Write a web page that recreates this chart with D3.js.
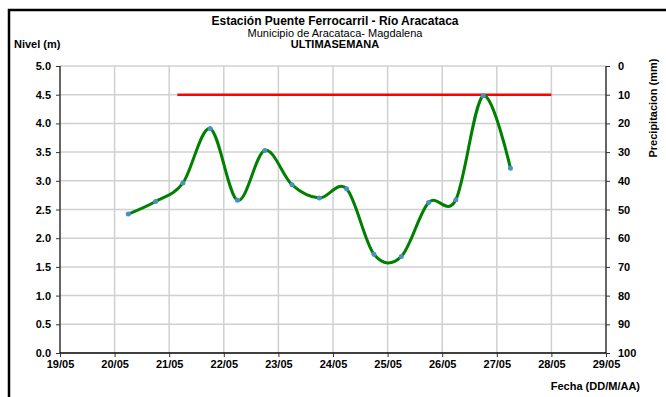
<!DOCTYPE html>
<html><head><meta charset="utf-8">
<script src="https://cdn.jsdelivr.net/npm/d3@7"></script>
<style>body{margin:0;background:#fff}svg{display:block;font-family:"Liberation Sans",Arial,sans-serif}</style>
</head><body><svg id="c" width="666" height="397"></svg>
<script>
// Data: day-of-May (fractional) and level in metres
const days = [20.25,20.75,21.25,21.75,22.25,22.75,23.25,23.75,24.25,24.75,25.25,25.75,26.25,26.75,27.25];
const nivel = [2.42,2.64,2.96,3.91,2.66,3.53,2.93,2.70,2.86,1.72,1.68,2.62,2.67,4.48,3.22];
const umbralDays = [21.15,28];
const umbralValue = [4.5,4.5];
const xTickDays = [19,20,21,22,23,24,25,26,27,28,29];
const xTickLabels = ["19/05","20/05","21/05","22/05","23/05","24/05","25/05","26/05","27/05","28/05","29/05"];
const yTicks = [0,0.5,1,1.5,2,2.5,3,3.5,4,4.5,5];
const precTicks = [0,10,20,30,40,50,60,70,80,90,100];

const svg = d3.select("#c");
const L=60,R=606,T=66,B=353;
const x = d3.scaleLinear().domain([19,29]).range([L,R]);
const y = d3.scaleLinear().domain([0,5]).range([B,T]);
const y2 = d3.scaleLinear().domain([0,100]).range([T,B]);

// frame
svg.append("rect").attr("x",9).attr("y",10).attr("width",700).attr("height",420)
  .attr("fill","none").attr("stroke","#000").attr("stroke-width",2.5);

// gridlines
const g = svg.append("g");
g.selectAll(".hg").data(yTicks.filter(d=>d>0)).enter().append("line")
  .attr("x1",L).attr("x2",R).attr("y1",d=>y(d)).attr("y2",d=>y(d))
  .attr("stroke","#d0d0d0").attr("stroke-width",1.5);
g.selectAll(".vg").data(xTickDays.slice(1,-1)).enter().append("line")
  .attr("y1",T).attr("y2",B).attr("x1",d=>x(d)).attr("x2",d=>x(d))
  .attr("stroke","#d0d0d0").attr("stroke-width",1.5);

// axes
const fmt = d3.format(".1f");
const ax = svg.append("g").attr("transform",`translate(${L},0)`)
  .call(d3.axisLeft(y).tickValues(yTicks).tickFormat(fmt).tickSize(4).tickPadding(5));
const ax2 = svg.append("g").attr("transform",`translate(${R},0)`)
  .call(d3.axisRight(y2).tickValues(precTicks).tickSize(4).tickPadding(8));
const bx = svg.append("g").attr("transform",`translate(0,${B})`)
  .call(d3.axisBottom(x).tickValues(xTickDays).tickFormat((d,i)=>xTickLabels[i]).tickSize(4).tickPadding(3));
[ax,ax2,bx].forEach(a=>{
  a.select(".domain").attr("stroke","#333").attr("stroke-width",1.5);
  a.selectAll(".tick line").attr("stroke","#333").attr("stroke-width",1);
  a.selectAll("text").attr("font-size",11).attr("font-weight","bold").attr("fill","#000")
   .attr("font-family","'Liberation Sans',Arial,sans-serif");
});
ax.select(".domain").attr("d",`M0,${T}V${B}`);
ax2.select(".domain").attr("d",`M0,${T}V${B}`);
bx.select(".domain").attr("stroke","#000").attr("d",`M${L},0H${R}`);

// threshold line
svg.append("line").attr("x1",x(umbralDays[0])).attr("x2",x(umbralDays[1]))
  .attr("y1",y(umbralValue[0])).attr("y2",y(umbralValue[1]))
  .attr("stroke","#ff0000").attr("stroke-width",2.5);

// level line
const pts = days.map((d,i)=>[d,nivel[i]]);
svg.append("path").datum(pts)
  .attr("d",d3.line().x(d=>x(d[0])).y(d=>y(d[1])).curve(d3.curveCardinal.tension(0)))
  .attr("fill","none").attr("stroke","#008000").attr("stroke-width",3);
svg.selectAll(".pt").data(pts).enter().append("circle")
  .attr("cx",d=>x(d[0])).attr("cy",d=>y(d[1])).attr("r",2.5)
  .attr("fill","#4a90c0");

// titles
const t = svg.append("g").attr("text-anchor","middle").attr("fill","#000");
t.append("text").attr("x",335).attr("y",25).attr("font-size",12).attr("font-weight","bold").text("Estación Puente Ferrocarril - Río Aracataca");
t.append("text").attr("x",335).attr("y",37).attr("font-size",11).text("Municipio de Aracataca- Magdalena");
t.append("text").attr("x",335).attr("y",48).attr("font-size",11).attr("font-weight","bold").text("ULTIMASEMANA");
svg.append("text").attr("x",14).attr("y",48).attr("font-size",11).attr("font-weight","bold").text("Nivel (m)");
svg.append("text").attr("transform","translate(657,108) rotate(-90)").attr("text-anchor","middle")
  .attr("font-size",11).attr("font-weight","bold").text("Precipitacion (mm)");
svg.append("text").attr("x",640).attr("y",390).attr("text-anchor","end")
  .attr("font-size",11).attr("font-weight","bold").text("Fecha (DD/M/AA)");
</script></body></html>
